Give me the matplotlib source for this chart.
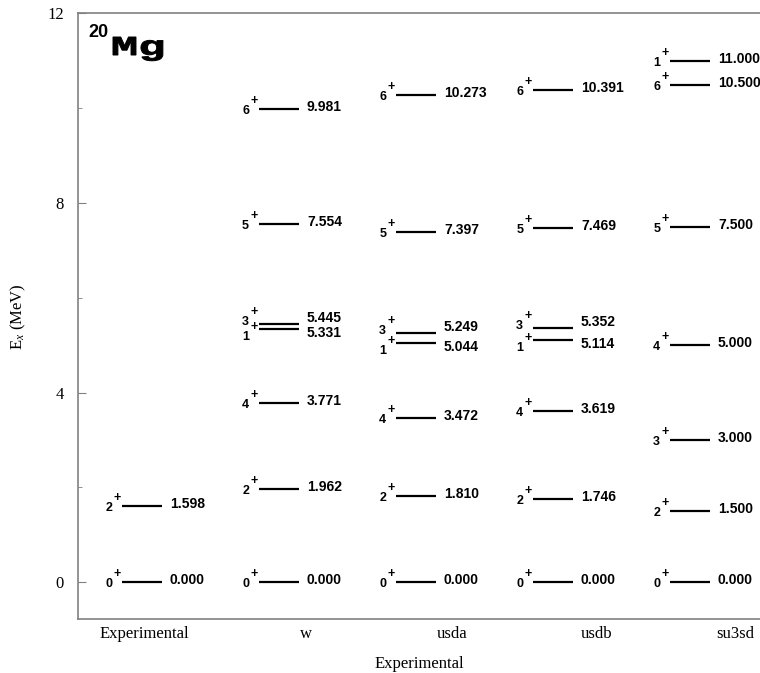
import matplotlib
matplotlib.use('Agg')
import matplotlib.pyplot as plt
from matplotlib.textpath import TextPath
from matplotlib.patches import PathPatch
from matplotlib.font_manager import FontProperties
from matplotlib.transforms import Affine2D, IdentityTransform

# level data
models = ['Experimental', 'w', 'usda', 'usdb', 'su3sd']
spins = [
    [0, 2],
    [0, 2, 4, 1, 3, 5, 6],
    [0, 2, 4, 1, 3, 5, 6],
    [0, 2, 4, 1, 3, 5, 6],
    [0, 2, 3, 4, 5, 6, 1],
]
energies = [
    [0.000, 1.598],
    [0.000, 1.962, 3.771, 5.331, 5.445, 7.554, 9.981],
    [0.000, 1.810, 3.472, 5.044, 5.249, 7.397, 10.273],
    [0.000, 1.746, 3.619, 5.114, 5.352, 7.469, 10.391],
    [0.000, 1.500, 3.000, 5.000, 7.500, 10.500, 11.000],
]

# layout
label_pos = [0.02, 1.20, 2.26, 3.32, 4.33]
half = 0.145

plt.rcParams['font.family'] = ['Liberation Serif', 'DejaVu Serif']
plt.rcParams['mathtext.fontset'] = 'custom'
plt.rcParams['mathtext.rm'] = 'Liberation Serif'
plt.rcParams['mathtext.it'] = 'Liberation Serif:italic'

fig = plt.figure(figsize=(7.6, 6.73), dpi=100)
ax = fig.add_axes([0.1026, 0.0802, 0.8974, 0.8998])

sans = dict(family='Liberation Sans', weight='bold')

for i, (js, es) in enumerate(zip(spins, energies)):
    x0, x1 = i - half, i + half
    ax.hlines(es, x0, x1, colors='black', lw=1.6)
    order = sorted(range(len(es)), key=lambda k: es[k])
    for n, k in enumerate(order):
        e = es[k]
        shift = 0
        if n + 1 < len(order) and es[order[n + 1]] - e < 0.3:
            shift = -6
        if n > 0 and e - es[order[n - 1]] < 0.3:
            shift = 4
        ax.annotate(str(js[k]), (x0, e), xytext=(-10, -2 + shift),
                    textcoords='offset pixels', ha='right', va='center',
                    fontsize=9, **sans)
        ax.annotate('+', (x0, e), xytext=(-1, 8 + shift),
                    textcoords='offset pixels', ha='right', va='center',
                    fontsize=9, **sans)
        ax.annotate('%.3f' % e, (x1, e), xytext=(8, 2 + shift),
                    textcoords='offset pixels', ha='left', va='center',
                    fontsize=10, **sans)

ax.set_xlim(-0.467, 4.51)
ax.set_ylim(-0.78, 12)
ax.set_yticks([0, 4, 8, 12])
ax.set_yticks([2, 6, 10], minor=True)
ax.set_xticks(label_pos)
ax.set_xticklabels(models, fontsize=12)
ax.tick_params(axis='x', length=0, pad=5)
ax.tick_params(axis='y', which='major', direction='in', length=6,
               color='#808080', labelsize=12, pad=10)
ax.tick_params(axis='y', which='minor', direction='in', length=3,
               color='#808080')

for side in ['left', 'bottom', 'top']:
    ax.spines[side].set_color('#808080')
    ax.spines[side].set_linewidth(1.2)
ax.spines['right'].set_visible(False)

ax.set_xlabel('Experimental', fontsize=12, labelpad=10)
ax.set_ylabel('E$_x$ (MeV)', fontsize=12, labelpad=14)

ax.text(0.015, 0.983, '20', transform=ax.transAxes, fontsize=13,
        family='Liberation Sans', weight='bold', va='top', ha='left')

# wide slab "Mg" drawn as a stretched text path (pixel units)
mono = FontProperties(family='Liberation Mono', weight='bold')
tp = TextPath((0, 0), 'Mg', size=30, prop=mono)
cap = TextPath((0, 0), 'M', size=30, prop=mono).get_extents().y1
ext = tp.get_extents()
sy = 18.0 / cap
sx = 50.0 / ext.width
tr = Affine2D().translate(-ext.x0, 0).scale(sx, sy).translate(113, 673 - 55)
fig.patches.append(PathPatch(tp, transform=tr + IdentityTransform(),
                             facecolor='black', edgecolor='black', lw=0.7,
                             figure=fig))

fig.savefig('out.png', dpi=100)
